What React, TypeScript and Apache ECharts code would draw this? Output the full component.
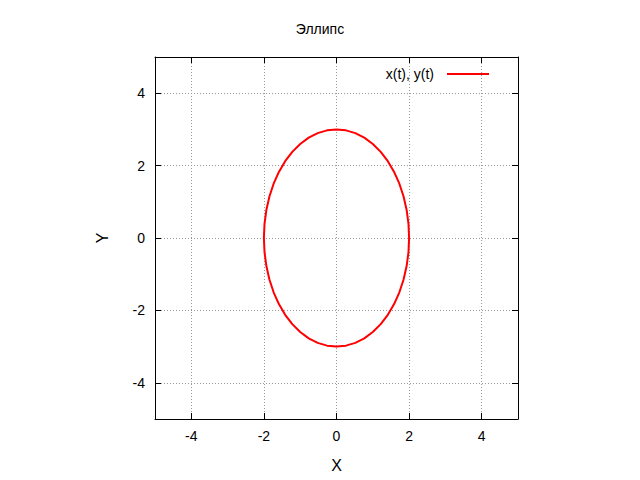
import React, { useEffect, useRef } from "react";
import * as echarts from "echarts";

const xValues = [
  2, 1.983, 1.932, 1.848, 1.732, 1.587, 1.414, 1.218, 1, 0.765, 0.518, 0.261,
  0, -0.261, -0.518, -0.765, -1, -1.218, -1.414, -1.587, -1.732, -1.848, -1.932, -1.983,
  -2, -1.983, -1.932, -1.848, -1.732, -1.587, -1.414, -1.218, -1, -0.765, -0.518, -0.261,
  0, 0.261, 0.518, 0.765, 1, 1.218, 1.414, 1.587, 1.732, 1.848, 1.932, 1.983, 2,
];
const yValues = [
  0, 0.392, 0.776, 1.148, 1.5, 1.826, 2.121, 2.38, 2.598, 2.772, 2.898, 2.974,
  3, 2.974, 2.898, 2.772, 2.598, 2.38, 2.121, 1.826, 1.5, 1.148, 0.776, 0.392,
  0, -0.392, -0.776, -1.148, -1.5, -1.826, -2.121, -2.38, -2.598, -2.772, -2.898, -2.974,
  -3, -2.974, -2.898, -2.772, -2.598, -2.38, -2.121, -1.826, -1.5, -1.148, -0.776, -0.392, 0,
];
const tickValues = [-4, -2, 0, 2, 4];
const seriesName = "x(t), y(t)";
const titleText = "Эллипс";

export default function App() {
  const ref = useRef<HTMLDivElement>(null);
  useEffect(() => {
    document.body.style.margin = "0";
    const chart = echarts.init(ref.current!, null, { renderer: "svg" });
    const font = "Liberation Sans, Arial, sans-serif";
    const tick = { show: true, inside: true, length: 6, customValues: tickValues, lineStyle: { color: "#000" } };
    const label = { color: "#000", fontSize: 14, fontFamily: font, margin: 10, customValues: tickValues };
    const split = { show: true, lineStyle: { color: "#999", type: [1, 2] } };
    const base = {
      type: "value" as const, min: -5, max: 5, interval: 1,
      axisLine: { show: true, onZero: false, lineStyle: { color: "#000" } },
      axisTick: tick,
      axisLabel: { show: false },
      splitLine: { show: false },
    };
    const nameStyle = { fontSize: 16, color: "#000", fontFamily: font };
    chart.setOption({
      animation: false,
      backgroundColor: "#fff",
      title: { text: titleText, left: "center", top: 17, textStyle: { fontSize: 14, fontWeight: "normal", color: "#000", fontFamily: font } },
      legend: {
        right: 146, top: 62, align: "right", itemWidth: 42, itemHeight: 2, itemGap: 0,
        icon: "rect",
        textStyle: { fontSize: 14, color: "#000", fontFamily: font, padding: [0, 8, 0, 0] },
        data: [{ name: seriesName, itemStyle: { color: "#f00" } }],
      },
      grid: { left: 155, right: 122, top: 57, bottom: 61 },
      xAxis: [
        { ...base, position: "bottom", name: "X", nameLocation: "middle", nameGap: 38, nameTextStyle: nameStyle, axisLabel: label, splitLine: { ...split, customValues: tickValues } },
        { ...base, position: "top" },
      ],
      yAxis: [
        { ...base, position: "left", name: "Y", nameLocation: "middle", nameGap: 45, nameTextStyle: nameStyle, axisLabel: label, splitLine: { ...split, customValues: tickValues } },
        { ...base, position: "right" },
      ],
      series: [{
        name: seriesName, type: "line", showSymbol: false, symbol: "none",
        data: xValues.map((x, i) => [x, yValues[i]]),
        lineStyle: { color: "#f00", width: 2 }, itemStyle: { color: "#f00" },
      }],
    });
    return () => chart.dispose();
  }, []);
  return <div ref={ref} style={{ width: 640, height: 480 }} />;
}
